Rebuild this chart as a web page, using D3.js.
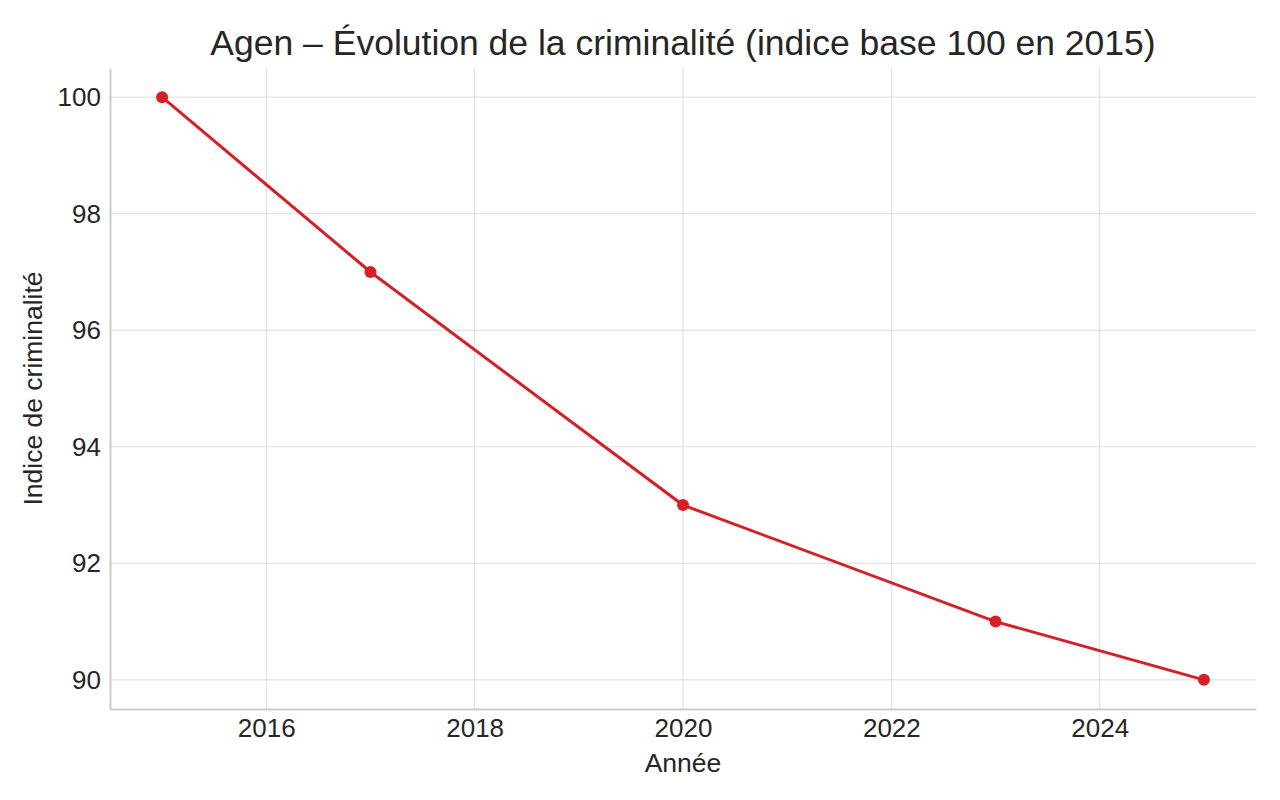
<!DOCTYPE html>
<html><head><meta charset="utf-8">
<script src="https://cdn.jsdelivr.net/npm/d3@7"></script>
<style>body{margin:0;background:#fff}svg{display:block;font-family:"Liberation Sans",Arial,sans-serif}</style>
</head><body><svg id="c" width="1280" height="800"></svg>
<script>
const years = [2015, 2017, 2020, 2023, 2025];
const values = [100, 97, 93, 91, 90];
const xTicks = [2016, 2018, 2020, 2022, 2024];
const yTicks = [90, 92, 94, 96, 98, 100];
const title = "Agen – Évolution de la criminalité (indice base 100 en 2015)";
const xLabel = "Année";
const yLabel = "Indice de criminalité";

const svg = d3.select("#c");
const L = 110, R = 1256, T = 68, B = 709;
const x = d3.scaleLinear().domain([2014.5, 2025.5]).range([L, R]);
const y = d3.scaleLinear().domain([89.5, 100.5]).range([B, T]);
const txt = "#262626";
const ff = '"Liberation Sans",Arial,sans-serif';

// grid
svg.append("g").selectAll("line").data(xTicks).join("line")
  .attr("x1", d => x(d)).attr("x2", d => x(d)).attr("y1", T).attr("y2", B)
  .attr("stroke", "#dcdcdc").attr("stroke-width", 1);
svg.append("g").selectAll("line").data(yTicks).join("line")
  .attr("y1", d => y(d)).attr("y2", d => y(d)).attr("x1", L).attr("x2", R)
  .attr("stroke", "#dcdcdc").attr("stroke-width", 1);

// axes
const xa = svg.append("g").attr("transform", `translate(0,${B})`)
  .call(d3.axisBottom(x).tickValues(xTicks).tickFormat(d3.format("d")).tickSize(0).tickPadding(10));
const ya = svg.append("g").attr("transform", `translate(${L},0)`)
  .call(d3.axisLeft(y).tickValues(yTicks).tickFormat(d3.format("d")).tickSize(0).tickPadding(9));
[xa, ya].forEach(a => {
  a.select(".domain").attr("stroke", "#cccccc").attr("stroke-width", 2);
  a.selectAll("text").attr("fill", txt).style("font-size", "26px").style("font-family", ff);
});

// line
svg.append("path").datum(years.map((d, i) => [d, values[i]]))
  .attr("fill", "none").attr("stroke", "#d62028").attr("stroke-width", 3)
  .attr("d", d3.line().x(d => x(d[0])).y(d => y(d[1])));
svg.append("g").selectAll("circle").data(years.map((d, i) => [d, values[i]])).join("circle")
  .attr("cx", d => x(d[0])).attr("cy", d => y(d[1])).attr("r", 6).attr("fill", "#d62028");

// texts
svg.append("text").attr("x", (L + R) / 2).attr("y", 55).attr("text-anchor", "middle")
  .attr("fill", txt).style("font-size", "35.5px").style("font-family", ff).text(title);
svg.append("text").attr("x", (L + R) / 2).attr("y", 772).attr("text-anchor", "middle")
  .attr("fill", txt).style("font-size", "26.5px").style("font-family", ff).text(xLabel);
svg.append("text").attr("transform", `translate(42,${(T + B) / 2}) rotate(-90)`).attr("text-anchor", "middle")
  .attr("fill", txt).style("font-size", "26.5px").style("font-family", ff).text(yLabel);
</script></body></html>
